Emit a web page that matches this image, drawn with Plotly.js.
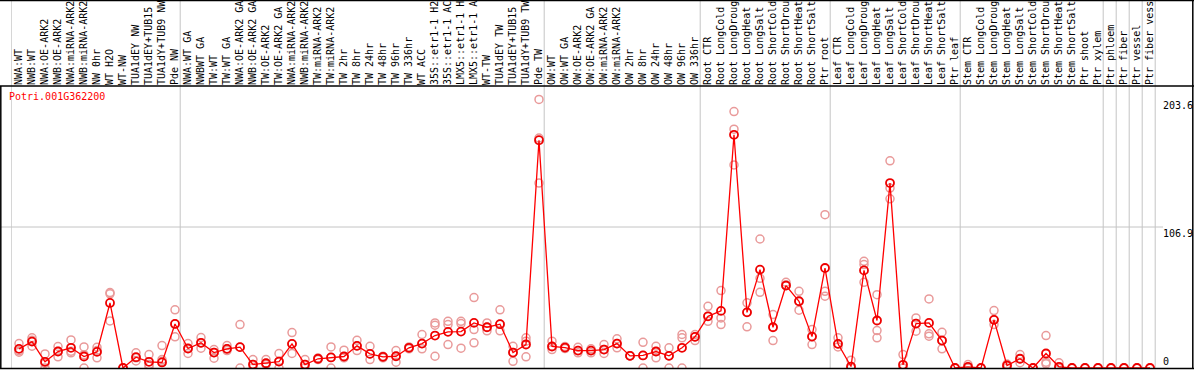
<!DOCTYPE html>
<html>
<head>
<meta charset="utf-8">
<script src="https://cdn.plot.ly/plotly-3.0.1.min.js"></script>
<style>html,body{margin:0;padding:0;background:#fff;overflow:hidden}#chart{width:1194px;height:370px}</style>
</head>
<body>
<div id="chart"></div>
<script>
const geneName = "Potri.001G362200";
const labels = [
"NWA:WT","NWB:WT","NWA:OE-ARK2","NWB:OE-ARK2","NWA:miRNA-ARK2","NWB:miRNA-ARK2","NW 0hr","WT H2O","WT-NW","TUA1dEY NW","TUA1dEY+TUB15 NW","TUA1dY+TUB9 NW","Pde NW",
"NWA:WT GA","NWBWT GA","TW:WT","TW:WT GA","NWA:OE-ARK2 GA","NWB:OE-ARK2 GA","TW:OE-ARK2","TW:OE-ARK2 GA","NWA:miRNA-ARK2","NWB:miRNA-ARK2","TW:miRNA-ARK2","TW:miRNA-ARK2","TW 2hr","TW 8hr","TW 24hr","TW 48hr","TW 96hr","TW 336hr","WT ACC","35S::etr1-1 H2O","35S::etr1-1 ACC","LMX5::etr1-1 H2O","LMX5::etr1-1 ACC","WT-TW","TUA1dEY TW","TUA1dEY+TUB15 TW","TUA1dY+TUB9 TW","Pde TW",
"OW:WT","OW:WT GA","OW:OE-ARK2","OW:OE-ARK2 GA","OW:miRNA-ARK2","OW:miRNA-ARK2","OW 2hr","OW 8hr","OW 24hr","OW 48hr","OW 96hr","OW 336hr",
"Root CTR","Root LongCold","Root LongDrought","Root LongHeat","Root LongSalt","Root ShortCold","Root ShortDrought","Root ShortHeat","Root ShortSalt","Ptr root",
"Leaf CTR","Leaf LongCold","Leaf LongDrought","Leaf LongHeat","Leaf LongSalt","Leaf ShortCold","Leaf ShortDrought","Leaf ShortHeat","Leaf ShortSalt","Ptr leaf",
"Stem CTR","Stem LongCold","Stem LongDrought","Stem LongHeat","Stem LongSalt","Stem ShortCold","Stem ShortDrought","Stem ShortHeat","Stem ShortSalt","Ptr shoot","Ptr xylem",
"Ptr phloem","Ptr fiber","Ptr vessel","Ptr fiber vessel"
];
const groupSizes = [13, 28, 12, 10, 10, 11, 1, 1, 1, 1];
const means = [
14.5,20.0,4.7,12.5,15.3,8.7,12.2,49.3,0,8.2,4.7,4.2,33.4,
14.8,19.1,11.7,14.5,15.8,2.6,3.6,4.9,18.3,2.6,7.0,8.0,8.7,16.8,10.7,8.5,8.9,15.3,18.5,24.6,27.4,27.6,34.2,30.9,33.2,11.7,17.8,172.7,
16.3,15.5,13.2,13.2,14.0,18.5,9.2,9.5,12.5,9.2,15.3,23.6,
39.2,43.3,176.8,42.2,74.6,30.9,62.5,50.6,23.8,75.8,
18.3,1.1,74.0,36.0,140.2,2.4,33.7,34.2,20.8,0,
0.9,0,36.5,1.9,7.0,0,11.0,0.9,0,0,0,
0,0,0,0
];
const rep1 = [
18.5,22.9,10.7,16.3,21.3,16.0,15.7,57.2,0,11.5,10.2,17.0,44.1,
18.5,23.1,14.0,17.0,32.9,6.4,6.4,11.0,26.9,6.4,7.6,16.0,13.5,21.0,16.5,8.9,13.2,16.0,25.4,34.2,35.4,35.4,53.4,34.2,44.1,16.5,22.9,203.6,
20.3,16.3,15.7,14.5,17.8,22.1,9.2,19.5,16.5,15.3,25.4,25.4,
46.8,58.7,194.4,49.4,97.8,40.5,65.0,58.1,29.1,116.2,
22.9,5.9,80.9,55.6,157.1,10.2,38.0,52.4,27.1,0,
2.6,0,43.5,3.0,10.2,0,24.6,3.9,0,0,0,
0,0,0,0
];
const rep2 = [
13.0,21.0,3.5,12.7,12.7,10.1,13.2,56.2,0,7.7,2.6,6.4,33.4,
14.8,19.1,11.7,14.5,15.8,2.6,3.6,4.9,18.3,2.6,7.0,8.0,8.7,16.8,10.7,8.5,8.9,15.3,18.5,32.4,32.9,33.7,29.1,30.9,33.2,11.7,20.3,174.3,
16.3,15.5,13.2,13.2,14.0,18.5,9.2,9.5,12.5,9.2,22.9,23.6,
39.2,38.0,181.1,42.2,68.0,30.9,63.2,50.6,23.8,58.1,
18.3,0,78.4,28.4,136.4,0,33.7,25.9,20.8,0,
0,0,36.5,1.9,7.0,0,4.4,0,0,0,0,
0,0,0,0
];
const rep3 = [
12.0,16.5,0,8.5,11.5,0,7.7,35.7,0,5.4,1.3,5.1,23.6,
11.0,15.0,7.4,13.2,0,0,2.6,0,11.0,0,6.4,0,7.7,13.2,6.4,7.7,4.4,14.5,14.5,8.9,17.8,15.0,19.1,28.2,28.2,5.1,8.5,140.2,
14.0,14.7,11.5,11.5,11.0,15.3,9.2,0,7.7,0,0,20.8,
35.4,32.9,154.0,31.2,57.4,20.8,62.5,43.8,17.8,54.4,
16.0,0,65.0,22.9,128.3,0,27.9,24.1,14.5,0,
0,0,32.9,0,4.0,0,3.2,0,0,0,0,
0,0,0,0
];
const yMax = 213.8;
const yLabels = [203.6, 106.9, 0];

const idx = labels.map((_, i) => i);
const W = 1194, H = 370, mL = 11, mR = 38, mT = 86, mB = 2;
const plotW = W - mL - mR, plotH = H - mT - mB;
const step = 13, firstPx = 19;
const xr = [(mL - firstPx) / step, (W - mR - firstPx) / step];
const px2paperX = p => (p - mL) / plotW;
const px2paperY = p => (H - mB - p) / plotH;

const repX = [], repY = [];
[rep1, rep2, rep3].forEach(r => r.forEach((v, i) => { if (v !== null) { repX.push(i); repY.push(v); } }));

const traces = [
  { x: repX, y: repY, type: 'scatter', mode: 'markers', hoverinfo: 'skip',
    marker: { symbol: 'circle-open', size: 8, color: '#e99a9a', line: { width: 1.5, color: '#e99a9a' } } },
  { x: idx, y: means, type: 'scatter', mode: 'lines+markers',
    line: { color: '#ff0000', width: 1.3 },
    marker: { symbol: 'circle-open', size: 8, color: '#ee0000', line: { width: 1.8, color: '#ee0000' } } }
];

const shapes = [];
let b = 0;
const bounds = [0];
groupSizes.forEach(g => { b += g; bounds.push(b); });
bounds.forEach(k => shapes.push({ type: 'line', xref: 'x', yref: 'paper', x0: k - 0.6, x1: k - 0.6, y0: 0, y1: px2paperY(0),
  line: { color: '#c4c4c4', width: 1 }, layer: 'below' }));
shapes.push({ type: 'line', xref: 'paper', yref: 'y', x0: px2paperX(1), x1: px2paperX(1163), y0: yLabels[1], y1: yLabels[1],
  line: { color: '#c4c4c4', width: 1 }, layer: 'below' });
const black = { color: '#000', width: 1.5 };
shapes.push({ type: 'line', xref: 'paper', yref: 'paper', x0: px2paperX(0), x1: px2paperX(W), y0: 1, y1: 1, line: black });
shapes.push({ type: 'line', xref: 'paper', yref: 'paper', x0: px2paperX(0), x1: px2paperX(W), y0: px2paperY(368.5), y1: px2paperY(368.5), line: black });
shapes.push({ type: 'line', xref: 'paper', yref: 'paper', x0: px2paperX(0.8), x1: px2paperX(0.8), y0: px2paperY(369), y1: 1, line: black });
shapes.push({ type: 'line', xref: 'paper', yref: 'paper', x0: px2paperX(1192.8), x1: px2paperX(1192.8), y0: px2paperY(369), y1: px2paperY(0), line: black });
shapes.push({ type: 'line', xref: 'paper', yref: 'paper', x0: px2paperX(0), x1: px2paperX(W), y0: px2paperY(0.5), y1: px2paperY(0.5), line: black });

const mono = 'DejaVu Sans Mono, monospace';
const annotations = [
  { text: geneName, xref: 'paper', yref: 'paper', x: px2paperX(8), y: px2paperY(90), xanchor: 'left', yanchor: 'top',
    showarrow: false, font: { family: mono, size: 10, color: '#ff0000' }, borderpad: 0 }
];
yLabels.forEach((v, i) => annotations.push({
  text: String(v), xref: 'paper', yref: 'y', x: px2paperX(1162), y: v, xanchor: 'left', yanchor: i === 2 ? 'bottom' : 'top',
  showarrow: false, font: { family: mono, size: 10, color: '#000' }, borderpad: 0
}));

const layout = {
  width: W, height: H,
  margin: { l: mL, r: mR, t: mT, b: mB, pad: 0 },
  paper_bgcolor: '#fff', plot_bgcolor: '#fff',
  showlegend: false,
  xaxis: { range: xr, side: 'top', tickmode: 'array', tickvals: idx, ticktext: labels, tickangle: -90,
    tickfont: { family: mono, size: 10, color: '#000' }, showgrid: false, zeroline: false, showline: false, ticks: '', automargin: false, fixedrange: true },
  yaxis: { range: [0, yMax], showticklabels: false, showgrid: false, zeroline: false, showline: false, ticks: '', fixedrange: true },
  shapes: shapes,
  annotations: annotations
};
Plotly.newPlot('chart', traces, layout, { displayModeBar: false, staticPlot: true });
</script>
</body>
</html>
